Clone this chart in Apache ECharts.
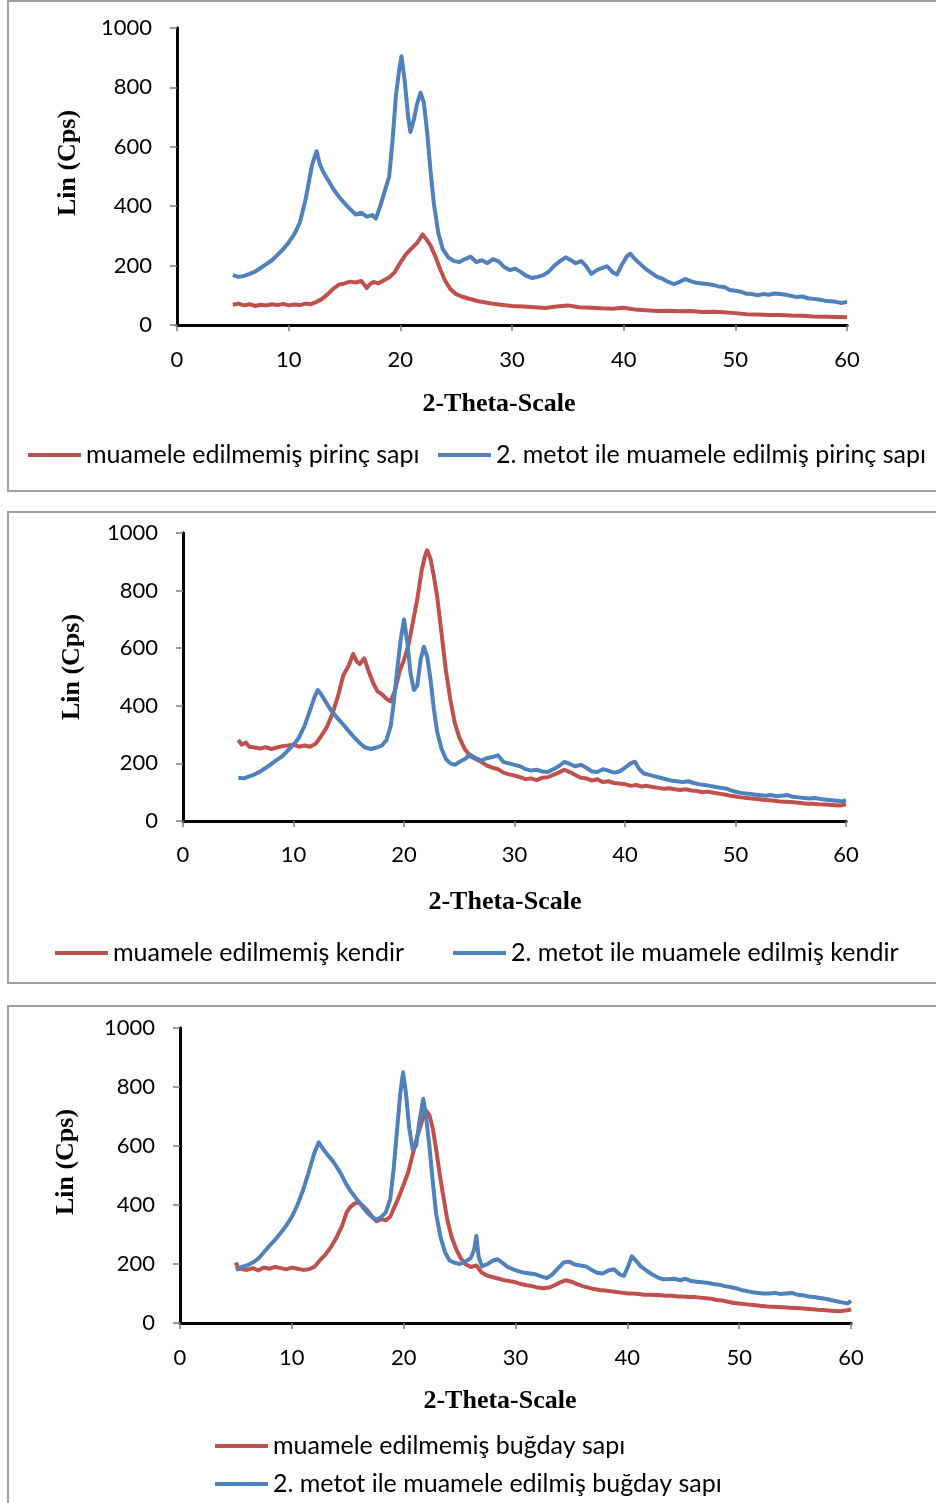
<!DOCTYPE html>
<html>
<head>
<meta charset="utf-8">
<script src="https://cdn.jsdelivr.net/npm/echarts@6/dist/echarts.min.js"></script>
<style>
html,body{margin:0;padding:0;background:#fff;overflow:hidden;}
#chart{width:936px;height:1503px;}
</style>
</head>
<body>
<div id="chart"></div>
<script>
// ---- data (2θ, Lin (Cps)) ----
var xTicks = [0, 10, 20, 30, 40, 50, 60];
var yTicks = [0, 200, 400, 600, 800, 1000];
var xTitle = '2-Theta-Scale';
var yTitle = 'Lin (Cps)';

var riceRawName = 'muamele edilmemiş pirinç sapı';
var riceTrtName = '2. metot ile muamele edilmiş pirinç sapı';
var hempRawName = 'muamele edilmemiş kendir';
var hempTrtName = '2. metot ile muamele edilmiş kendir';
var wheatRawName = 'muamele edilmemiş buğday sapı';
var wheatTrtName = '2. metot ile muamele edilmiş buğday sapı';

var riceRaw = [[5,68],[5.5,72],[6,66],[6.5,70],[7,64],[7.5,68],[8,66],[8.5,70],[9,67],[9.5,71],[10,66],[10.5,69],[11,67],[11.5,72],[12,70],[12.5,78],[13,88],[13.5,104],[14,122],[14.5,136],[15,140],[15.5,146],[16,143],[16.5,148],[17,125],[17.3,138],[17.6,145],[18,140],[18.5,150],[19,160],[19.5,178],[20,210],[20.5,238],[21,258],[21.5,276],[22,305],[22.3,290],[22.7,268],[23.2,225],[23.6,185],[24,150],[24.5,120],[25,104],[25.5,96],[26,90],[27,80],[28,73],[29,68],[30,64],[31,62],[32,60],[33,57],[34,62],[35,66],[36,60],[37,58],[38,56],[39,55],[40,58],[41,52],[42,50],[43,47],[44,48],[45,46],[46,47],[47,44],[48,45],[49,43],[50,40],[51,36],[52,35],[53,34],[54,34],[55,32],[56,31],[57,29],[58,28],[59,27],[60,26]];
var riceTrt = [[5,168],[5.5,162],[6,165],[6.5,172],[7,180],[7.5,192],[8,205],[8.5,218],[9,236],[9.5,255],[10,278],[10.5,305],[11,345],[11.5,420],[11.8,480],[12.1,540],[12.5,585],[12.8,540],[13.1,515],[13.5,490],[14,458],[14.5,432],[15,410],[15.5,390],[16,372],[16.5,378],[17,365],[17.5,370],[17.8,358],[18.2,400],[18.6,450],[19,500],[19.3,620],[19.6,770],[19.9,860],[20.1,905],[20.4,820],[20.7,700],[20.9,650],[21.2,690],[21.5,745],[21.8,782],[22.1,750],[22.4,650],[22.7,520],[23,410],[23.4,310],[23.8,255],[24.3,228],[24.8,215],[25.3,212],[25.8,222],[26.3,230],[26.8,212],[27.3,218],[27.8,208],[28.3,222],[28.8,214],[29.3,195],[29.8,185],[30.3,190],[30.8,178],[31.3,165],[31.8,158],[32.3,162],[32.8,168],[33.3,180],[33.8,200],[34.3,215],[34.8,228],[35.2,220],[35.7,208],[36.2,215],[36.6,200],[37.1,172],[37.6,185],[38.1,192],[38.5,198],[39,178],[39.4,170],[39.8,200],[40.3,232],[40.6,240],[41,222],[41.5,205],[42,188],[42.5,175],[43,162],[43.5,155],[44,145],[44.5,138],[45,145],[45.5,155],[46,148],[46.5,142],[47,140],[47.5,138],[48,135],[48.5,130],[49,128],[49.5,118],[50,115],[50.5,112],[51,105],[51.5,104],[52,100],[52.5,104],[53,102],[53.5,106],[54,104],[54.5,102],[55,98],[55.5,94],[56,96],[56.5,90],[57,88],[57.5,86],[58,82],[58.5,80],[59,78],[59.5,74],[60,78]];

var hempRaw = [[5,282],[5.3,265],[5.7,272],[6,258],[6.5,255],[7,252],[7.5,256],[8,250],[8.5,255],[9,260],[9.5,262],[10,265],[10.5,258],[11,262],[11.5,258],[12,268],[12.5,295],[13,325],[13.5,370],[14,430],[14.5,505],[15,540],[15.4,580],[15.7,555],[16,545],[16.4,565],[16.8,520],[17.2,480],[17.6,450],[18,440],[18.4,425],[18.8,415],[19.2,455],[19.6,520],[20,560],[20.4,610],[20.8,690],[21.2,770],[21.6,870],[21.9,920],[22.1,940],[22.4,910],[22.7,850],[23,780],[23.4,650],[23.8,520],[24.2,420],[24.6,340],[25,290],[25.5,250],[26,225],[26.5,215],[27,205],[27.5,192],[28,185],[28.5,180],[29,168],[29.5,162],[30,158],[30.5,152],[31,145],[31.5,148],[32,142],[32.5,150],[33,152],[33.5,160],[34,168],[34.5,178],[35,170],[35.5,160],[36,150],[36.5,148],[37,140],[37.5,145],[38,135],[38.5,138],[39,132],[39.5,130],[40,128],[40.5,122],[41,125],[41.5,120],[42,122],[42.5,118],[43,115],[43.5,112],[44,114],[44.5,110],[45,108],[45.5,110],[46,106],[46.5,104],[47,100],[47.5,102],[48,98],[48.5,95],[49,92],[49.5,88],[50,85],[50.5,82],[51,80],[51.5,78],[52,76],[52.5,74],[53,72],[53.5,70],[54,68],[54.5,67],[55,66],[55.5,64],[56,62],[56.5,60],[57,60],[57.5,58],[58,57],[58.5,56],[59,55],[59.5,54],[60,58]];
var hempTrt = [[5,150],[5.5,148],[6,155],[6.5,162],[7,172],[7.5,185],[8,198],[8.5,212],[9,225],[9.5,245],[10,265],[10.5,290],[11,330],[11.5,385],[11.9,430],[12.2,455],[12.5,440],[12.9,415],[13.3,390],[13.7,370],[14.1,352],[14.5,335],[15,312],[15.5,290],[16,270],[16.5,255],[17,250],[17.5,255],[18,262],[18.4,280],[18.8,330],[19.1,420],[19.4,530],[19.7,630],[20,700],[20.3,620],[20.6,510],[20.9,455],[21.2,470],[21.5,560],[21.8,605],[22.1,570],[22.4,490],[22.7,390],[23,310],[23.4,250],[23.8,215],[24.2,200],[24.6,195],[25,205],[25.5,215],[26,230],[26.5,218],[27,210],[27.5,218],[28,222],[28.5,228],[29,205],[29.5,200],[30,195],[30.5,190],[31,180],[31.5,175],[32,178],[32.5,172],[33,170],[33.5,180],[34,190],[34.5,205],[35,198],[35.5,190],[36,195],[36.5,185],[37,172],[37.5,170],[38,180],[38.5,175],[39,168],[39.5,172],[40,185],[40.5,200],[40.9,206],[41.3,180],[41.7,165],[42.2,160],[42.7,155],[43.2,150],[43.7,145],[44.2,140],[44.7,138],[45.2,135],[45.7,138],[46.2,132],[46.7,128],[47.2,125],[47.7,122],[48.2,118],[48.7,115],[49.2,112],[49.7,105],[50.2,100],[50.7,96],[51.2,95],[51.7,92],[52.2,90],[52.7,88],[53.2,90],[53.7,86],[54.2,88],[54.7,90],[55.2,84],[55.7,82],[56.2,80],[56.7,78],[57.2,80],[57.7,76],[58.2,74],[58.7,72],[59.2,70],[59.7,68],[60,72]];

var wheatRaw = [[5,205],[5.2,185],[5.6,182],[6,180],[6.5,186],[7,178],[7.5,188],[8,184],[8.5,190],[9,186],[9.5,182],[10,188],[10.5,184],[11,180],[11.5,182],[12,190],[12.5,212],[13,232],[13.5,258],[14,290],[14.5,330],[14.9,375],[15.2,392],[15.6,405],[16,410],[16.4,395],[16.8,380],[17.2,360],[17.6,345],[18,352],[18.4,348],[18.8,360],[19.2,395],[19.6,430],[20,470],[20.4,510],[20.8,570],[21.2,630],[21.6,680],[22,720],[22.3,705],[22.6,660],[22.9,590],[23.2,510],[23.5,440],[23.9,350],[24.3,290],[24.7,250],[25.1,220],[25.5,200],[26,190],[26.5,195],[27,170],[27.5,160],[28,155],[28.5,150],[29,145],[29.5,142],[30,138],[30.5,132],[31,128],[31.5,125],[32,120],[32.5,118],[33,120],[33.5,128],[34,138],[34.5,145],[35,140],[35.5,132],[36,125],[36.5,120],[37,115],[37.5,112],[38,110],[38.5,108],[39,105],[39.5,103],[40,100],[40.5,100],[41,98],[41.5,96],[42,96],[42.5,95],[43,94],[43.5,92],[44,92],[44.5,90],[45,90],[45.5,88],[46,88],[46.5,86],[47,84],[47.5,82],[48,78],[48.5,76],[49,72],[49.5,68],[50,66],[50.5,64],[51,62],[51.5,60],[52,58],[52.5,56],[53,55],[53.5,54],[54,53],[54.5,52],[55,51],[55.5,50],[56,48],[56.5,47],[57,45],[57.5,44],[58,42],[58.5,41],[59,40],[59.5,42],[60,46]];
var wheatTrt = [[5,180],[5.5,190],[6,195],[6.5,205],[7,218],[7.5,240],[8,262],[8.5,282],[9,305],[9.5,330],[10,360],[10.5,400],[11,450],[11.5,510],[12,575],[12.4,612],[12.8,590],[13.2,570],[13.6,552],[14,530],[14.4,505],[14.8,475],[15.2,450],[15.6,430],[16,410],[16.4,390],[16.8,372],[17.2,358],[17.6,350],[18,360],[18.4,375],[18.8,420],[19.1,520],[19.4,650],[19.7,780],[19.95,850],[20.2,780],[20.5,660],[20.8,590],[21.1,600],[21.4,680],[21.75,760],[22,700],[22.3,600],[22.6,480],[22.9,370],[23.3,290],[23.7,240],[24.1,212],[24.5,205],[25,200],[25.5,208],[26,220],[26.3,248],[26.5,295],[26.7,225],[27,192],[27.5,200],[28,212],[28.4,216],[28.8,205],[29.3,190],[29.8,182],[30.3,175],[30.8,170],[31.3,168],[31.8,165],[32.3,158],[32.8,152],[33.3,165],[33.8,185],[34.3,205],[34.8,208],[35.3,198],[35.8,195],[36.3,192],[36.8,180],[37.3,170],[37.8,168],[38.3,178],[38.8,182],[39.3,165],[39.7,160],[40.1,195],[40.4,226],[40.8,210],[41.2,192],[41.7,178],[42.2,165],[42.7,155],[43.2,148],[43.7,148],[44.2,150],[44.7,145],[45.2,150],[45.7,142],[46.2,140],[46.7,138],[47.2,136],[47.7,132],[48.2,130],[48.7,125],[49.2,122],[49.7,118],[50.2,112],[50.7,108],[51.2,104],[51.7,102],[52.2,100],[52.7,100],[53.2,102],[53.7,98],[54.2,100],[54.7,102],[55.2,96],[55.7,94],[56.2,90],[56.7,88],[57.2,85],[57.7,82],[58.2,78],[58.7,74],[59.2,70],[59.7,66],[60,75]];

// ---- layout / style ----
var RED = '#C0504D', BLUE = '#4F81BD';
var AXIS_GRAY = '#7f7f7f';
var TICK_FONT = 'Lato';
var panels = [
  {grid:{left:177, top:28, width:670, height:297}, frame:{y:1, h:490},
   raw:riceRaw, trt:riceTrt, rawName:riceRawName, trtName:riceTrtName,
   xt:{x:499, y:404}, yt:{x:68, y:163},
   leg:[{left:28, top:441},{left:438, top:441}], xm:24, ym:25},
  {grid:{left:183, top:533, width:663, height:288}, frame:{y:512, h:471},
   raw:hempRaw, trt:hempTrt, rawName:hempRawName, trtName:hempTrtName,
   xt:{x:505, y:902}, yt:{x:72, y:667},
   leg:[{left:55, top:939},{left:453, top:939}], xm:23, ym:25},
  {grid:{left:180, top:1028, width:671, height:295}, frame:{y:1006, h:520},
   raw:wheatRaw, trt:wheatTrt, rawName:wheatRawName, trtName:wheatTrtName,
   xt:{x:500, y:1401}, yt:{x:66, y:1162},
   leg:[{left:215, top:1432},{left:215, top:1470}], xm:24, ym:25}
];

function plain(v) { return String(v); }

var grids = [], xAxes = [], yAxes = [], series = [], legends = [], graphics = [];
panels.forEach(function (p, i) {
  grids.push(Object.assign({containLabel:false}, p.grid));
  xAxes.push({
    type:'value', gridIndex:i, min:xTicks[0], max:xTicks[xTicks.length-1], interval:10,
    axisLine:{show:true, lineStyle:{color:AXIS_GRAY, width:3}},
    axisTick:{show:true, length:6, lineStyle:{color:AXIS_GRAY, width:1.5}},
    axisLabel:{fontFamily:TICK_FONT, fontSize:22, color:'#000', margin:p.xm, formatter:plain},
    splitLine:{show:false}
  });
  xAxes.push({
    type:'value', gridIndex:i, position:'top', min:0, max:60, interval:10,
    axisLine:{show:true, lineStyle:{color:'#000', width:3}},
    axisTick:{show:false}, axisLabel:{show:false}, splitLine:{show:false}
  });
  yAxes.push({
    type:'value', gridIndex:i, min:yTicks[0], max:yTicks[yTicks.length-1], interval:200,
    axisLine:{show:true, lineStyle:{color:AXIS_GRAY, width:3}},
    axisTick:{show:true, length:7, lineStyle:{color:AXIS_GRAY, width:1.5}},
    axisLabel:{fontFamily:TICK_FONT, fontSize:22, color:'#000', margin:p.ym, formatter:plain},
    splitLine:{show:false}
  });
  yAxes.push({
    type:'value', gridIndex:i, position:'right', min:0, max:1000, interval:200,
    axisLine:{show:true, lineStyle:{color:'#000', width:3}},
    axisTick:{show:false}, axisLabel:{show:false}, splitLine:{show:false}
  });
  [[p.rawName, p.raw, RED], [p.trtName, p.trt, BLUE]].forEach(function (s) {
    series.push({
      type:'line', name:s[0], data:s[1], xAxisIndex:2*i, yAxisIndex:2*i,
      showSymbol:false, symbol:'none', smooth:false, animation:false,
      lineStyle:{color:s[2], width:4, join:'round'}, itemStyle:{color:s[2]}, z:3
    });
  });
  [p.rawName, p.trtName].forEach(function (nm, k) {
    legends.push({
      data:[nm], left:p.leg[k].left, top:p.leg[k].top, padding:0,
      icon:'rect', itemWidth:53, itemHeight:4, itemGap:5,
      textStyle:{fontFamily:TICK_FONT, fontSize:25, color:'#000', lineHeight:28},
      selectedMode:false
    });
  });
  graphics.push({
    type:'rect', shape:{x:8, y:p.frame.y, width:960, height:p.frame.h},
    style:{fill:'none', stroke:'#a0a0a0', lineWidth:2}, silent:true, z:-1
  });
  graphics.push({
    type:'text', x:p.xt.x, y:p.xt.y,
    style:{text:xTitle, font:'bold 26px "Liberation Serif"', fill:'#000', textAlign:'center', textVerticalAlign:'middle'}
  });
  graphics.push({
    type:'text', x:p.yt.x, y:p.yt.y, rotation:Math.PI/2,
    style:{text:yTitle, font:'bold 26px "Liberation Serif"', fill:'#000', textAlign:'center', textVerticalAlign:'middle'}
  });
});

var chart = echarts.init(document.getElementById('chart'), null, {renderer:'canvas'});
chart.setOption({
  animation:false,
  backgroundColor:'#fff',
  grid:grids, xAxis:xAxes, yAxis:yAxes, series:series, legend:legends,
  graphic:graphics
});
</script>
</body>
</html>
